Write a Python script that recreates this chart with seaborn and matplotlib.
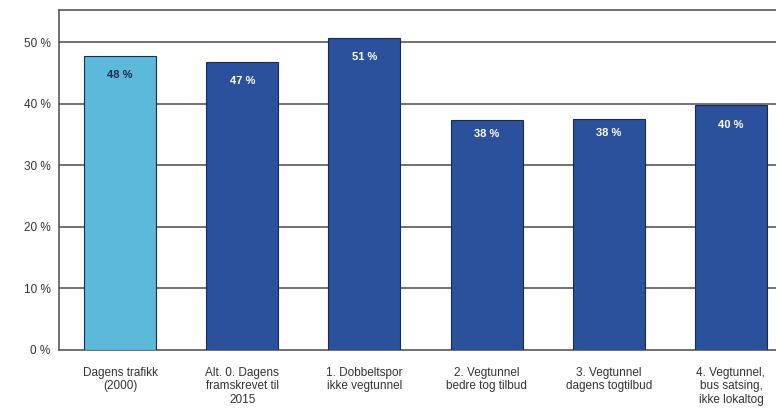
import matplotlib
matplotlib.use("Agg")
import matplotlib.pyplot as plt
import seaborn as sns
import pandas as pd

categories = ["Dagens trafikk\n(2000)", "Alt. 0. Dagens\nframskrevet til\n2015",
              "1. Dobbeltspor\nikke vegtunnel", "2. Vegtunnel\nbedre tog tilbud",
              "3. Vegtunnel\ndagens togtilbud", "4. Vegtunnel,\nbus satsing,\nikke lokaltog"]
values = [47.8, 46.8, 50.7, 37.4, 37.5, 39.8]
value_labels = ["48 %", "47 %", "51 %", "38 %", "38 %", "40 %"]
bar_colors = ["#5DB9D9", "#2B509C", "#2B509C", "#2B509C", "#2B509C", "#2B509C"]
yticks = [0, 10, 20, 30, 40, 50]

sns.set_theme(style="white")
plt.rcParams['font.family'] = ['Liberation Sans', 'DejaVu Sans']

fig = plt.figure(figsize=(7.76, 4.17), dpi=100)
ax = fig.add_axes([59/776, 67/417, (792-59)/776, (350-10)/417])

df = pd.DataFrame({"cat": categories, "val": values})
sns.barplot(data=df, x="cat", y="val", hue="cat", palette=bar_colors, legend=False,
            width=0.59, edgecolor="#1a2a50", linewidth=0.8, saturation=1, ax=ax, zorder=3)

ax.set_ylim(0, 55.2)
ax.set_xlim(-0.5, 5.5)
ax.set_yticks(yticks)
ax.set_yticklabels([f"{t} %" for t in yticks], fontsize=8.5, color="#333333")
ax.tick_params(axis="x", labelsize=8.5, colors="#333333", length=0, pad=12)
ax.tick_params(axis="y", length=0, pad=6)
ax.set_xlabel("")
ax.set_ylabel("")
for t in yticks[1:]:
    ax.axhline(t, color="#4a4a4a", linewidth=1.1, zorder=1)
for s in ["top", "left", "bottom"]:
    ax.spines[s].set_color("#4a4a4a")
    ax.spines[s].set_linewidth(1.1)
ax.spines["right"].set_visible(False)

for i, (v, lab) in enumerate(zip(values, value_labels)):
    col = "#1a2a50" if i == 0 else "white"
    off = 2.3 if v < 39 else 3.2
    ax.text(i, v - off, lab, ha="center", va="center", fontsize=8, fontweight="bold",
            color=col, zorder=4)

fig.savefig("out.png", dpi=100)
